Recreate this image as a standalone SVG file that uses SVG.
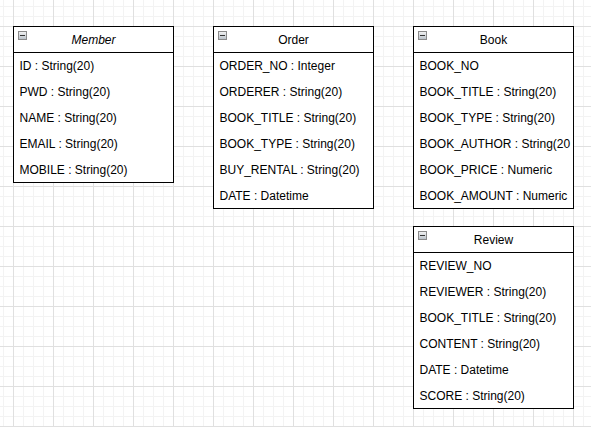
<svg xmlns="http://www.w3.org/2000/svg" width="591" height="427" viewBox="0 0 591 427">
<style>
.box{fill:#ffffff;stroke:#000000;stroke-width:1}
.sep{stroke:#000000;stroke-width:1}
.t{font-family:"Liberation Sans",Helvetica,Arial,sans-serif;font-size:12px;fill:#000000}
.h{text-anchor:middle}
.ic{fill:url(#icg);stroke:#8a8a8a;stroke-width:1}
.icm{stroke:#333333;stroke-width:1}
</style>
<defs>
<linearGradient id="icg" x1="0" y1="0" x2="0" y2="1">
<stop offset="0" stop-color="#f4f4f4"/>
<stop offset="1" stop-color="#b8c0c8"/>
</linearGradient>
<pattern id="grid" x="13" y="26" width="40" height="40" patternUnits="userSpaceOnUse">
<path d="M10.5 0V40M20.5 0V40M30.5 0V40M0 10.5H40M0 20.5H40M0 30.5H40" stroke="#f3f3f3" stroke-width="1" fill="none"/>
<path d="M0.5 0V40M0 0.5H40" stroke="#e0e0e0" stroke-width="1" fill="none"/>
</pattern>
<clipPath id="bookclip"><rect x="414" y="27" width="159" height="181"/></clipPath>
</defs>
<rect width="591" height="427" fill="#ffffff"/>
<rect width="591" height="427" fill="url(#grid)"/>
<g id="connectors"></g>

<g id="member">
<rect class="box" x="13.5" y="26.5" width="160" height="156"/>
<line class="sep" x1="13.5" y1="52.5" x2="173.5" y2="52.5"/>
<rect class="ic" x="18.5" y="31.5" width="8" height="8"/>
<line class="icm" x1="20" y1="35.5" x2="25" y2="35.5"/>
<text class="t h" x="93.5" y="44" font-style="italic">Member</text>
<text class="t" x="19.5" y="70">ID : String(20)</text>
<text class="t" x="19.5" y="96">PWD : String(20)</text>
<text class="t" x="19.5" y="122">NAME : String(20)</text>
<text class="t" x="19.5" y="148">EMAIL : String(20)</text>
<text class="t" x="19.5" y="174">MOBILE : String(20)</text>
</g>

<g id="order">
<rect class="box" x="213.5" y="26.5" width="160" height="182"/>
<line class="sep" x1="213.5" y1="52.5" x2="373.5" y2="52.5"/>
<rect class="ic" x="218.5" y="31.5" width="8" height="8"/>
<line class="icm" x1="220" y1="35.5" x2="225" y2="35.5"/>
<text class="t h" x="293.5" y="44">Order</text>
<text class="t" x="219.5" y="70">ORDER_NO : Integer</text>
<text class="t" x="219.5" y="96">ORDERER : String(20)</text>
<text class="t" x="219.5" y="122">BOOK_TITLE : String(20)</text>
<text class="t" x="219.5" y="148">BOOK_TYPE : String(20)</text>
<text class="t" x="219.5" y="174">BUY_RENTAL : String(20)</text>
<text class="t" x="219.5" y="200">DATE : Datetime</text>
</g>

<g id="book">
<rect class="box" x="413.5" y="26.5" width="160" height="182"/>
<line class="sep" x1="413.5" y1="52.5" x2="573.5" y2="52.5"/>
<rect class="ic" x="418.5" y="31.5" width="8" height="8"/>
<line class="icm" x1="420" y1="35.5" x2="425" y2="35.5"/>
<text class="t h" x="493.5" y="44">Book</text>
<g clip-path="url(#bookclip)">
<text class="t" x="419.5" y="70">BOOK_NO</text>
<text class="t" x="419.5" y="96">BOOK_TITLE : String(20)</text>
<text class="t" x="419.5" y="122">BOOK_TYPE : String(20)</text>
<text class="t" x="419.5" y="148">BOOK_AUTHOR : String(20</text>
<text class="t" x="419.5" y="174">BOOK_PRICE : Numeric</text>
<text class="t" x="419.5" y="200">BOOK_AMOUNT : Numeric</text>
</g>
</g>

<g id="review">
<rect class="box" x="413.5" y="226.5" width="160" height="182"/>
<line class="sep" x1="413.5" y1="252.5" x2="573.5" y2="252.5"/>
<rect class="ic" x="418.5" y="231.5" width="8" height="8"/>
<line class="icm" x1="420" y1="235.5" x2="425" y2="235.5"/>
<text class="t h" x="493.5" y="244">Review</text>
<text class="t" x="419.5" y="270">REVIEW_NO</text>
<text class="t" x="419.5" y="296">REVIEWER : String(20)</text>
<text class="t" x="419.5" y="322">BOOK_TITLE : String(20)</text>
<text class="t" x="419.5" y="348">CONTENT : String(20)</text>
<text class="t" x="419.5" y="374">DATE : Datetime</text>
<text class="t" x="419.5" y="400">SCORE : String(20)</text>
</g>
</svg>
